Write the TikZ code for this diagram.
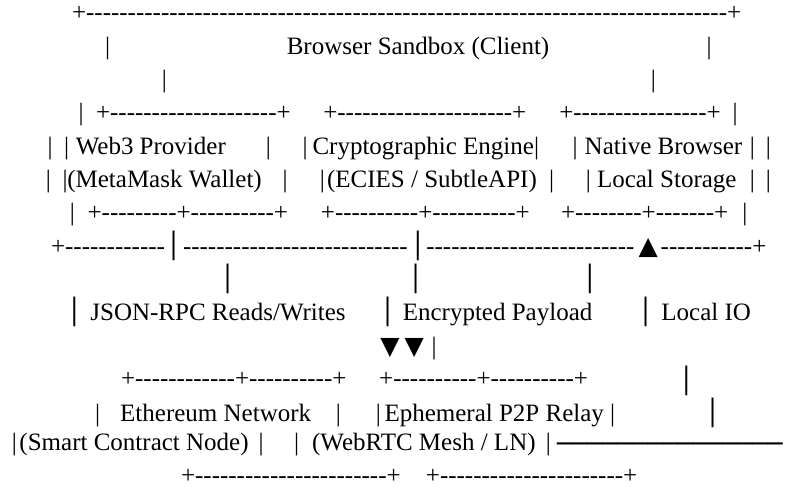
\documentclass[tikz,border=0pt]{standalone}
\usepackage{fontspec}
\setmainfont{Liberation Serif}
\newfontfamily\dvs{DejaVu Sans}
\newcommand\tmf{\fontsize{25}{30}\selectfont}
\newcommand\dvf{\dvs\fontsize{25}{30}\selectfont}
\newcommand\dsh[1]{\foreach\k in {1,...,#1}{-\kern0pt}}
\newcommand\hln[1]{\foreach\k in {1,...,#1}{─}}
\tikzset{
  t/.style={anchor=base west, inner sep=0pt, outer sep=0pt, font=\tmf},
  g/.style={anchor=base, inner sep=0pt, outer sep=0pt, font=\dvf},
  gw/.style={anchor=base west, inner sep=0pt, outer sep=0pt, font=\dvf}
}
\begin{document}
\begin{tikzpicture}[x=1pt,y=-1pt]
\useasboundingbox (0,0) rectangle (786,489);
\fill[white] (0,0) rectangle (786,489);
% line 1
\node[t] (a1) at (72,21) {+\dsh{77}+};
% line 2
\node[t] (b1) at (105.2,54.3) {|};
\node[t] (b2) at (286.8,54.3) {Browser Sandbox (Client)};
\node[t] (b3) at (706.5,54.3) {|};
% line 3
\node[t] (c1) at (161.8,87.6) {|};
\node[t] (c2) at (650.8,87.6) {|};
% line 4
\node[t] (d1) at (78.5,120.9) {|};
\node[t] (d2) at (96,120.9) {+\dsh{20}+};
\node[t] (d3) at (323.3,120.9) {+\dsh{21}+};
\node[t] (d4) at (559.3,120.9) {+\dsh{16}+};
\node[t] (d5) at (732.5,120.9) {|};
% line 5
\node[t] (e1) at (47.5,154.2) {|};
\node[t] (e2) at (64.2,154.2) {|};
\node[t] (e3) at (75.8,154.2) {Web3 Provider};
\node[t] (e4) at (265.8,154.2) {|};
\node[t] (e5) at (302.5,154.2) {|};
\node[t] (e6) at (312.5,154.2) {Cryptographic Engine|};
\node[t] (e7) at (572.5,154.2) {|};
\node[t] (e8) at (584.7,154.2) {Native Browser};
\node[t] (e9) at (749.8,154.2) {|};
\node[t] (e10) at (765.8,154.2) {|};
% line 6
\node[t] (f1) at (45.8,187.5) {|};
\node[t] (f2) at (62.5,187.5) {|};
\node[t] (f3) at (67.3,187.5) {(MetaMask Wallet)};
\node[t] (f4) at (282.5,187.5) {|};
\node[t] (f5) at (319.8,187.5) {|};
\node[t] (f6) at (327.1,187.5) {(ECIES / SubtleAPI)};
\node[t] (f7) at (549.2,187.5) {|};
\node[t] (f8) at (585.8,187.5) {|};
\node[t] (f9) at (597,187.5) {Local Storage};
\node[t] (f10) at (749.8,187.5) {|};
\node[t] (f11) at (765.8,187.5) {|};
% line 7
\node[t] (g1) at (69.8,220.8) {|};
\node[t] (g2) at (87.6,220.8) {+\dsh{9}+\dsh{10}+};
\node[t] (g3) at (320.9,220.8) {+\dsh{10}+\dsh{10}+};
\node[t] (g4) at (561,220.8) {+\dsh{8}+\dsh{7}+};
\node[t] (g5) at (742.4,220.8) {|};
% line 8
\node[t] (h1) at (51,254.1) {+\dsh{12}};
\node[g] (h2) at (173.7,254.1) {│};
\node[t] (h3) at (183,254.1) {\dsh{27}};
\node[g] (h4) at (418,254.1) {│};
\node[t] (h5) at (426.3,254.1) {\dsh{25}};
\node[g] (h6) at (648.3,254.1) {▲};
\node[t] (h7) at (660.7,254.1) {\dsh{11}+};
% line 9
\node[g] (i1) at (227.7,287.4) {│};
\node[g] (i2) at (415.7,287.4) {│};
\node[g] (i3) at (590,287.4) {│};
% line 10
\node[g] (j1) at (74.3,320.7) {│};
\node[t] (j2) at (90.4,320.7) {JSON-RPC Reads/Writes};
\node[g] (j3) at (387.7,320.7) {│};
\node[t] (j4) at (402.8,320.7) {Encrypted Payload};
\node[g] (j5) at (645.7,320.7) {│};
\node[t] (j6) at (661.4,320.7) {Local IO};
% line 11
\node[g] (k1) at (390,354) {▼};
\node[g] (k2) at (414.3,354) {▼};
\node[t] (k3) at (431.5,354) {|};
% line 12
\node[t] (l1) at (121,386.8) {+\dsh{12}+\dsh{10}+};
\node[t] (l2) at (379.2,386.8) {+\dsh{10}+\dsh{10}+};
\node[g] (l3) at (686.3,389) {│};
% line 13
\node[t] (m1) at (95.2,421.2) {|};
\node[t] (m2) at (120.2,421.2) {Ethereum Network};
\node[t] (m3) at (335.8,421.2) {|};
\node[t] (m4) at (375.8,421.2) {|};
\node[t] (m5) at (384.5,421.2) {Ephemeral P2P Relay |};
\node[g] (m6) at (712.7,421.2) {│};
% line 14
\node[t] (n1) at (11.8,450.6) {|};
\node[t] (n2) at (19.5,450.6) {(Smart Contract Node)};
\node[t] (n3) at (258.5,450.6) {|};
\node[t] (n4) at (294.2,450.6) {|};
\node[t] (n5) at (312.1,450.6) {(WebRTC Mesh / LN)};
\node[t] (n6) at (545.8,450.6) {|};
\node[gw] (n7) at (557,452.5) {\hln{15}};
% line 15
\node[t] (o1) at (181,483.4) {+\dsh{23}+};
\node[t] (o2) at (425.9,483.4) {+\dsh{22}+};
\end{tikzpicture}
\end{document}
